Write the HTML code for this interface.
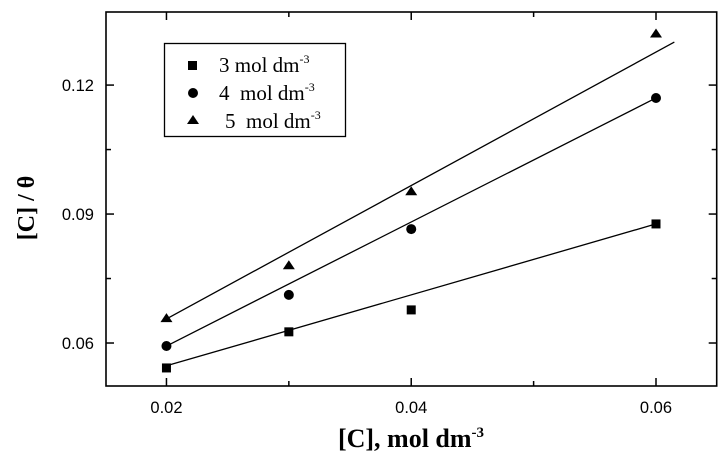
<!DOCTYPE html>
<html><head><meta charset="utf-8"><style>
html,body{margin:0;padding:0;background:#fff;}
svg{display:block;}
</style></head><body>
<svg id="chart" width="722" height="456" xmlns="http://www.w3.org/2000/svg">
<g id="axes"></g>
<g id="marks"></g>
<g>
<rect x="164.5" y="43.5" width="181" height="93" fill="#fff" stroke="#000" stroke-width="1.3"/>
<rect x="188" y="61" width="9" height="9" fill="#000"/>
<text x="219" y="72" font-family="Liberation Serif, serif" font-size="21">3 mol dm<tspan dy="-9" font-size="12">-3</tspan></text>
<circle cx="193" cy="93" r="5" fill="#000"/>
<text x="219" y="100" font-family="Liberation Serif, serif" font-size="21" xml:space="preserve">4  mol dm<tspan dy="-9" font-size="12">-3</tspan></text>
<path d="M193,115 L199,124 L187,124 Z" fill="#000"/>
<text x="225" y="128" font-family="Liberation Serif, serif" font-size="21" xml:space="preserve">5  mol dm<tspan dy="-9" font-size="12">-3</tspan></text>
</g>
<text transform="translate(34,208) rotate(-90)" text-anchor="middle" font-family="Liberation Serif, serif" font-weight="bold" font-size="24">[C] / θ</text>
<text x="411" y="447" text-anchor="middle" font-family="Liberation Serif, serif" font-weight="bold" font-size="26">[C], mol dm<tspan dy="-10" font-size="15">-3</tspan></text>
</svg>
<script>
const xTicks = [0.02, 0.04, 0.06];
const xMinor = [0.03, 0.05];
const yTicks = [0.06, 0.09, 0.12];
const yMinor = [0.075, 0.105];
const xTickLabels = ["0.02", "0.04", "0.06"];
const yTickLabels = ["0.06", "0.09", "0.12"];
const xs = [0.02, 0.03, 0.04, 0.06];
const s3 = [0.0542, 0.0626, 0.0677, 0.0877];
const s4 = [0.0593, 0.0712, 0.0865, 0.1170];
const s5 = [0.0658, 0.0781, 0.0953, 0.1320];
const fitX3 = [0.02, 0.06];
const fit3 = [0.0547, 0.0877];
const fitX4 = [0.02, 0.06];
const fit4 = [0.0593, 0.1170];
const fitX5 = [0.02, 0.0615];
const fit5 = [0.0656, 0.1300];

const L=106,R=716.7,T=12,B=386;
const xMin=0.01506,xMax=0.06496,yMin=0.05,yMax=0.137;
const xS=v=>L+(v-xMin)/(xMax-xMin)*(R-L);
const yS=v=>B-(v-yMin)/(yMax-yMin)*(B-T);
const NS="http://www.w3.org/2000/svg";
function mk(tag,attrs,parent){const e=document.createElementNS(NS,tag);for(const k in attrs)e.setAttribute(k,attrs[k]);parent.appendChild(e);return e;}
const ax=document.getElementById('axes'), mg=document.getElementById('marks');
let f=mk('rect',{x:L,y:T,width:R-L,height:B-T,fill:'none',stroke:'#000','stroke-width':1.6},ax);


xTicks.forEach((v,i)=>{const x=xS(v);
 let t=mk('line',{x1:x,x2:x,y1:B,y2:B-8,stroke:'#000','stroke-width':1.5},ax);
 
 
 let t2=mk('line',{x1:x,x2:x,y1:T,y2:T+8,stroke:'#000','stroke-width':1.5},ax);
 
 
 let lb=mk('text',{x:x,y:B+27,'text-anchor':'middle','font-family':'Liberation Sans, sans-serif','font-size':16.5},ax);
 lb.textContent=xTickLabels[i];
 
 
});
xMinor.forEach(v=>{const x=xS(v);
 let t=mk('line',{x1:x,x2:x,y1:B,y2:B-5,stroke:'#000','stroke-width':1.5},ax);
 
 
 let t2=mk('line',{x1:x,x2:x,y1:T,y2:T+5,stroke:'#000','stroke-width':1.5},ax);
 
 
});
yTicks.forEach((v,i)=>{const y=yS(v);
 let t=mk('line',{x1:L,x2:L+8,y1:y,y2:y,stroke:'#000','stroke-width':1.5},ax);
 
 
 let t2=mk('line',{x1:R,x2:R-8,y1:y,y2:y,stroke:'#000','stroke-width':1.5},ax);
 
 
 let lb=mk('text',{x:L-12,y:y+6,'text-anchor':'end','font-family':'Liberation Sans, sans-serif','font-size':16.5},ax);
 lb.textContent=yTickLabels[i];
 
 
});
yMinor.forEach(v=>{const y=yS(v);
 let t=mk('line',{x1:L,x2:L+5,y1:y,y2:y,stroke:'#000','stroke-width':1.5},ax);
 
 
 let t2=mk('line',{x1:R,x2:R-5,y1:y,y2:y,stroke:'#000','stroke-width':1.5},ax);
 
 
});
[[fitX3,fit3,'fit-line-3'],[fitX4,fit4,'fit-line-4'],[fitX5,fit5,'fit-line-5']].forEach(([fx,fy,n])=>{
 let l=mk('line',{x1:xS(fx[0]),y1:yS(fy[0]),x2:xS(fx[1]),y2:yS(fy[1]),stroke:'#000','stroke-width':1.3},mg);
 
 
});
xs.forEach((v,i)=>{const x=xS(v);
 let a=mk('rect',{x:x-4.5,y:yS(s3[i])-4.5,width:9,height:9,fill:'#000'},mg);
 
 
 let b=mk('circle',{cx:x,cy:yS(s4[i]),r:5,fill:'#000'},mg);
 
 
 const y=yS(s5[i]);
 let c=mk('path',{d:`M${x},${y-5} L${x+6},${y+4} L${x-6},${y+4} Z`,fill:'#000'},mg);
 
 
});
</script>
</body></html>
